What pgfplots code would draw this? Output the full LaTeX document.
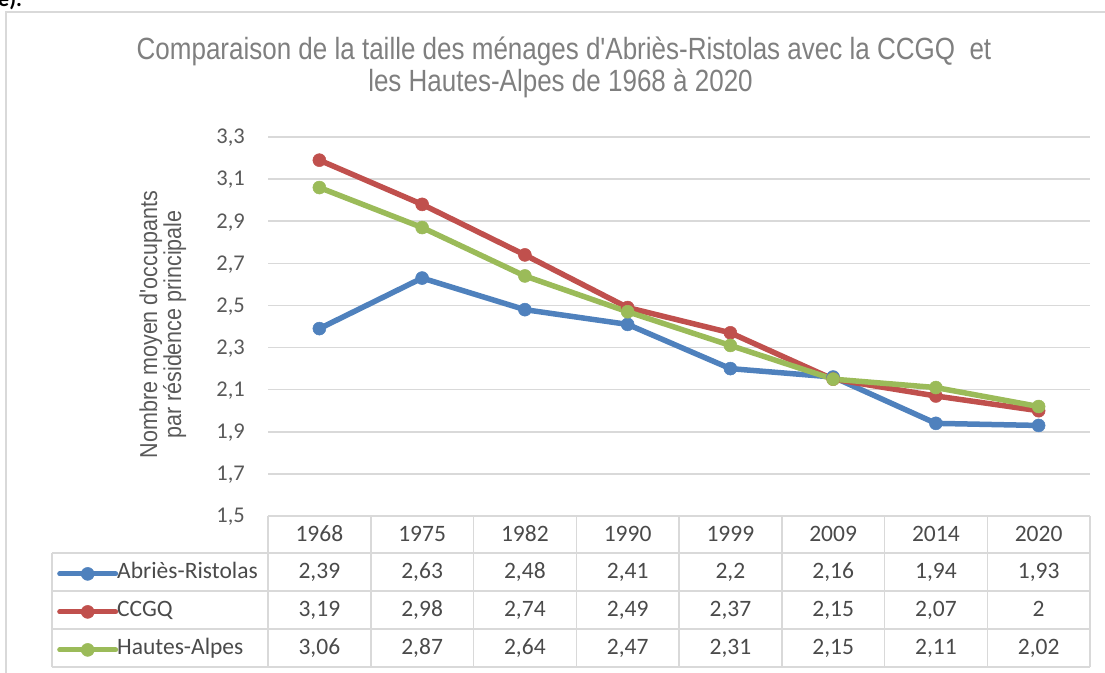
\documentclass[border=0pt]{standalone}
\usepackage{fontspec}
\setmainfont{Liberation Sans}
\newfontfamily\arial{Liberation Sans}
\newfontfamily\carlito{Carlito}
\usepackage{pgfplots}
\pgfplotsset{compat=1.18}
\definecolor{cblue}{HTML}{4F81BD}
\definecolor{cred}{HTML}{C0504D}
\definecolor{cgreen}{HTML}{9BBB59}
\definecolor{gridc}{HTML}{D9D9D9}
\definecolor{tickc}{HTML}{595959}
\definecolor{titlec}{HTML}{7F7F7F}
\definecolor{tablec}{HTML}{4A4A4A}
\begin{document}
\begin{tikzpicture}[x=1pt,y=1pt]
\path[use as bounding box] (0,0) rectangle (1105,672);
% outer frame
\draw[gridc, line width=1.5pt] (6,-5) -- (6,660) -- (1112,660);
\node[anchor=base west, inner sep=0pt, font=\carlito\bfseries\fontsize{22}{26}\selectfont] at (-2,665) {e).};
% title
\node[anchor=base, inner sep=0pt, yscale=1.18, text=titlec, font=\arial\fontsize{26}{30}\selectfont] at (564,612) {Comparaison de la taille des ménages d'Abriès-Ristolas avec la CCGQ\ \ et};
\node[anchor=base, inner sep=0pt, yscale=1.18, text=titlec, font=\arial\fontsize{26}{30}\selectfont] at (560.5,580) {les Hautes-Alpes de 1968 à 2020};
% y label
\node[anchor=base, inner sep=0pt, rotate=90, yscale=1.14, text=tickc, font=\arial\fontsize{21.5}{26}\selectfont] at (157,347.5) {Nombre moyen d'occupants};
\node[anchor=base, inner sep=0pt, rotate=90, yscale=1.14, text=tickc, font=\arial\fontsize{21.5}{26}\selectfont] at (181,347.5) {par résidence principale};
\begin{axis}[
  at={(268pt,156pt)}, anchor=south west, scale only axis,
  width=822pt, height=379pt,
  xmin=-0.5, xmax=7.5, ymin=1.5, ymax=3.3,
  ytick={1.5,1.7,1.9,2.1,2.3,2.5,2.7,2.9,3.1,3.3},
  xtick=\empty,
  ymajorgrids, grid style={gridc, line width=1.5pt},
  axis line style={draw=none}, major tick length=0pt,
  clip=false,
  yticklabel style={font=\carlito\fontsize{22.5}{26}\selectfont, text=tickc, inner sep=0pt, xshift=-23pt, yshift=-1pt,
    /pgf/number format/.cd, use comma, fixed, fixed zerofill, precision=1, assume math mode=true},
  legend cell align=left,
  legend style={at={(axis description cs:-0.2567,-0.253)}, anchor=west, draw=none, fill=none,
    inner sep=0pt, row sep=16pt, column sep=-1pt,
    font=\carlito\fontsize{23.5}{28}\selectfont, text=tablec,
    nodes={inner sep=0pt, text height=16pt, text depth=6pt}},
  legend image code/.code={\draw[mark repeat=2, mark phase=2, #1, line width=5pt, line cap=round] plot coordinates {(0pt,0pt) (28pt,0pt) (56pt,0pt)};},
  every axis plot/.append style={line width=5.5pt, line join=round, mark=*, mark size=6.5pt},
]
\addplot[cblue, mark options={fill=cblue, draw=cblue, line width=0.5pt}] coordinates {(0,2.39) (1,2.63) (2,2.48) (3,2.41) (4,2.2) (5,2.16) (6,1.94) (7,1.93)};
\addlegendentry{Abriès-Ristolas}
\addplot[cred, mark options={fill=cred, draw=cred, line width=0.5pt}] coordinates {(0,3.19) (1,2.98) (2,2.74) (3,2.49) (4,2.37) (5,2.15) (6,2.07) (7,2.00)};
\addlegendentry{CCGQ}
\addplot[cgreen, mark options={fill=cgreen, draw=cgreen, line width=0.5pt}] coordinates {(0,3.06) (1,2.87) (2,2.64) (3,2.47) (4,2.31) (5,2.15) (6,2.11) (7,2.02)};
\addlegendentry{Hautes-Alpes}
\end{axis}
% data table grid
\begin{scope}[gridc, line width=1.5pt]
\draw (268,156) -- (1090,156);
\foreach \yy in {119,81,43,5} \draw (52,\yy) -- (1090,\yy);
\draw (52,5) -- (52,119);
\foreach \k in {0,...,8} \draw (268+102.75*\k,5) -- (268+102.75*\k,156);
\end{scope}
\begin{scope}[every node/.style={anchor=base, inner sep=0pt, text=tablec, font=\carlito\fontsize{23.5}{28}\selectfont}]
\foreach \v [count=\i from 0] in {1968,1975,1982,1990,1999,2009,2014,2020}
  \node at (319.375+102.75*\i,131) {\v};
\foreach \v [count=\i from 0] in {{2,39},{2,63},{2,48},{2,41},{2,2},{2,16},{1,94},{1,93}}
  \node at (319.375+102.75*\i,93.5) {\v};
\foreach \v [count=\i from 0] in {{3,19},{2,98},{2,74},{2,49},{2,37},{2,15},{2,07},{2}}
  \node at (319.375+102.75*\i,55.5) {\v};
\foreach \v [count=\i from 0] in {{3,06},{2,87},{2,64},{2,47},{2,31},{2,15},{2,11},{2,02}}
  \node at (319.375+102.75*\i,17.5) {\v};
\end{scope}
\end{tikzpicture}
\end{document}
